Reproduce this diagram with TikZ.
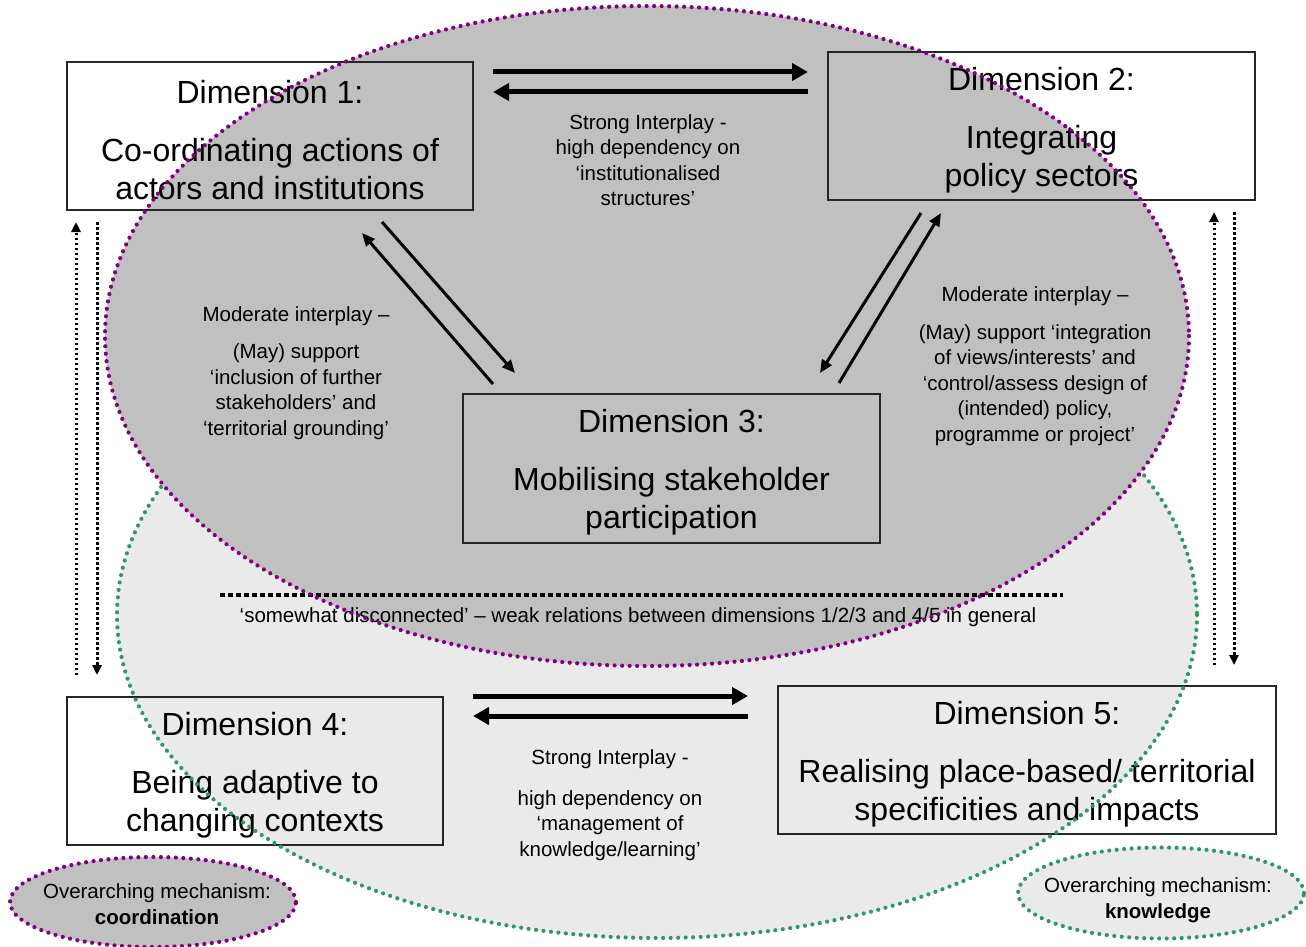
\documentclass[tikz,border=0pt]{standalone}
\usepackage{fontspec}
\setmainfont{Liberation Sans}
\usetikzlibrary{arrows.meta,shapes.geometric}
\definecolor{dkgrey}{HTML}{C0C0C0}
\definecolor{ltgrey}{HTML}{EAEAEA}
\definecolor{purp}{HTML}{800080}
\definecolor{grn}{HTML}{2E9966}
\begin{document}
\begin{tikzpicture}[x=1pt,y=-1pt,
 dimbox/.style={draw=black!85,line width=1.4pt,minimum height=148pt,inner sep=0pt,align=center,font=\fontsize{32}{38}\selectfont},
 lbl/.style={align=center,inner sep=0pt,font=\fontsize{20.5}{25.5}\selectfont},
 bigarr/.style={line width=5pt,-{Triangle[length=16pt,width=17pt]}},
 diagarr/.style={line width=3pt,-{Triangle[length=13pt,width=11pt]}},
 dotarr/.style={line width=3pt,dash pattern=on 2.5pt off 2.5pt,-{Triangle[length=10pt,width=9pt]}},
 purpdots/.style={draw=purp,line width=4.2pt,line cap=round,dash pattern=on 0pt off 7.5pt},
 grndots/.style={draw=grn,line width=4.2pt,line cap=round,dash pattern=on 0pt off 7.5pt},
 ovl/.style={ellipse,minimum width=286pt,minimum height=90pt,inner sep=0pt},
]
\useasboundingbox (0,0) rectangle (1306,947);
% background ellipses
\fill[ltgrey] (657,615) ellipse [x radius=540,y radius=323];
\fill[dkgrey] (647,336) ellipse [x radius=542,y radius=330];

% dimension boxes
\node[dimbox,minimum width=406pt] (b1) at (270,136) {\rule{0pt}{31pt}Dimension 1:\\[20pt]Co-ordinating actions of\\actors and institutions};
\node[dimbox,minimum width=427pt] (b2) at (1041.5,126) {\rule{0pt}{31pt}Dimension 2:\\[20pt]Integrating\\policy sectors};
\node[dimbox,minimum width=417pt,minimum height=149pt] (b3) at (671.5,468.5) {\rule{0pt}{31pt}Dimension 3:\\[20pt]Mobilising stakeholder\\participation};
\node[dimbox,minimum width=376pt] (b4) at (255,771) {\rule{0pt}{31pt}Dimension 4:\\[20pt]Being adaptive to\\changing contexts};
\node[dimbox,minimum width=498pt] (b5) at (1027,760) {\rule{0pt}{31pt}Dimension 5:\\[20pt]Realising place-based/ territorial\\specificities and impacts};

% labels
\node[lbl] (sI) at (648,160) {Strong Interplay -\\high dependency on\\‘institutionalised\\structures’};
\node[lbl] (m1) at (296,373) {Moderate interplay –\\[12pt](May) support\\‘inclusion of further\\stakeholders’ and\\‘territorial grounding’};
\node[lbl] (m2) at (1035,366) {Moderate interplay –\\[12pt](May) support ‘integration\\of views/interests’ and\\‘control/assess design of\\(intended) policy,\\programme or project’};
\node[lbl] (sK) at (610,805) {Strong Interplay -\\[15pt]high dependency on\\‘management of\\knowledge/learning’};
\node[lbl] (dc) at (638,617) {‘somewhat disconnected’ – weak relations between dimensions 1/2/3 and 4/5 in general};

% connector end points
\coordinate (t1) at (493,72);  \coordinate (t2) at (808,72);
\coordinate (t3) at (808,92);  \coordinate (t4) at (493,92);
\coordinate (u1) at (473,696); \coordinate (u2) at (748,696);
\coordinate (u3) at (748,716); \coordinate (u4) at (473,716);
\coordinate (l1) at (382,222); \coordinate (l2) at (515,373);
\coordinate (l3) at (493,384); \coordinate (l4) at (362,233);
\coordinate (r1) at (921,213); \coordinate (r2) at (820,373);
\coordinate (r3) at (839,383); \coordinate (r4) at (941,213);
\coordinate (v1) at (76,675);  \coordinate (v2) at (76,222);
\coordinate (v3) at (97,222);  \coordinate (v4) at (97,675);
\coordinate (w1) at (1214,665); \coordinate (w2) at (1214,212);
\coordinate (w3) at (1234,212); \coordinate (w4) at (1234,665);
\coordinate (h1) at (220,595); \coordinate (h2) at (1063,595);

\draw[bigarr] (t1) -- (t2);
\draw[bigarr] (t3) -- (t4);
\draw[bigarr] (u1) -- (u2);
\draw[bigarr] (u3) -- (u4);
\draw[diagarr] (l1) -- (l2);
\draw[diagarr] (l3) -- (l4);
\draw[diagarr] (r1) -- (r2);
\draw[diagarr] (r3) -- (r4);
\draw[dotarr] (v1) -- (v2);
\draw[dotarr] (v3) -- (v4);
\draw[dotarr] (w1) -- (w2);
\draw[dotarr] (w3) -- (w4);
\draw[line width=4.5pt,dash pattern=on 5pt off 3pt] (h1) -- (h2);

% ellipse borders
\draw[purpdots] (647,336) ellipse [x radius=542,y radius=330];
\begin{scope}[even odd rule]
\clip (0,0) rectangle (1306,947) (647,336) ellipse [x radius=542,y radius=330];
\draw[grndots] (657,615) ellipse [x radius=540,y radius=323];
\end{scope}

% overarching mechanisms
\node[ovl,purpdots,fill=dkgrey] (o1) at (153,902) {};
\node[lbl,font=\fontsize{20.5}{26}\selectfont] (o1t) at (157,904) {Overarching mechanism:\\\textbf{coordination}};
\node[ovl,grndots,fill=ltgrey,minimum height=91pt] (o2) at (1161,893) {};
\node[lbl,font=\fontsize{20.5}{26}\selectfont] (o2t) at (1158,900) {Overarching mechanism:\\\textbf{knowledge}};
\end{tikzpicture}
\end{document}
